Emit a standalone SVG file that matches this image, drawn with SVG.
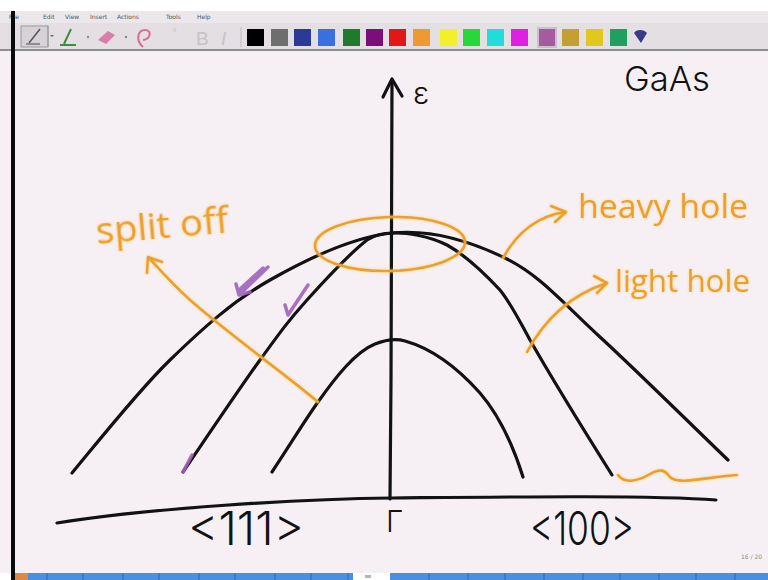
<svg xmlns="http://www.w3.org/2000/svg" width="768" height="580" viewBox="0 0 768 580">
<defs>
<style>
.ink{fill:none;stroke:#121212;stroke-width:3.2;stroke-linecap:round;stroke-linejoin:round}
.or{fill:none;stroke:#ec9e32;stroke-width:2.6;stroke-linecap:round;stroke-linejoin:round}
.ort{fill:#ec9e32;font-family:"Open Sans","DejaVu Sans",sans-serif;font-weight:400}
.pu{fill:none;stroke:#a062bb;stroke-width:3.5;stroke-linecap:round;stroke-linejoin:round;opacity:.9}
.hw{font-family:Inter,"Open Sans","DejaVu Sans",sans-serif;font-weight:300;fill:#121212}
.menu{font-family:"DejaVu Sans",sans-serif;font-size:6px;fill:#555}
.tick{stroke:#2f66b3;stroke-width:1}
</style>
<filter id="glow" x="-10%" y="-20%" width="120%" height="140%">
<feGaussianBlur in="SourceAlpha" stdDeviation="1.6" result="b"/>
<feFlood flood-color="#f8d264" flood-opacity="0.85"/>
<feComposite in2="b" operator="in" result="g"/>
<feMerge><feMergeNode in="g"/><feMergeNode in="SourceGraphic"/></feMerge>
</filter>
</defs>

<!-- window chrome -->
<g id="chrome">
<rect x="0" y="0" width="768" height="580" fill="#ffffff"/>
<rect x="0" y="11" width="768" height="12" fill="#ebe7eb"/>
<rect x="0" y="23" width="768" height="26" fill="#e3dfe3"/>
<rect x="0" y="49" width="768" height="2" fill="#8e8e8e"/>
<rect x="0" y="51" width="768" height="522" fill="#f6f0f5"/>
<text class="menu" x="9" y="19">File</text>
<text class="menu" x="43" y="19">Edit</text>
<text class="menu" x="65" y="19">View</text>
<text class="menu" x="90" y="19">Insert</text>
<text class="menu" x="117" y="19">Actions</text>
<text class="menu" x="166" y="19">Tools</text>
<text class="menu" x="197" y="19">Help</text>
<!-- tools -->
<rect x="21" y="26" width="27" height="21" fill="#d6d2d8" stroke="#9a9a9a" stroke-width="1"/>
<line x1="29" y1="43" x2="40" y2="29" stroke="#555" stroke-width="1.5"/>
<line x1="26" y1="44" x2="40" y2="44" stroke="#777" stroke-width="1.5"/>
<line x1="48" y1="26" x2="48" y2="47" stroke="#9a9a9a"/>
<path d="M50,35 L52,37 L54,35" fill="#666"/>
<path d="M71,29 L64,44 M60,45 L76,45" stroke="#3f8c3f" stroke-width="2" fill="none"/>
<circle cx="88" cy="37" r="1.2" fill="#888"/>
<path d="M98,40 L108,31 L115,35 L106,44 Z" fill="#d77fa8"/>
<circle cx="126" cy="37" r="1.2" fill="#888"/>
<path d="M143,47 C135,40 138,30 145,30 C152,30 151,39 143,40" fill="none" stroke="#d86e8e" stroke-width="2"/>
<text x="172" y="36" font-family="DejaVu Sans,sans-serif" font-size="10" fill="#c8c4c8">°</text>
<text x="196" y="45" font-family="Liberation Sans,sans-serif" font-size="19" fill="#c7c3c7">B</text>
<text x="221" y="45" font-family="Liberation Sans,sans-serif" font-size="19" font-style="italic" fill="#c7c3c7">I</text>
<line x1="241" y1="27" x2="241" y2="47" stroke="#c0bcc0"/>
<g id="swatches">
<rect x="247" y="29" width="17" height="17" fill="#000000"/>
<rect x="271" y="29" width="17" height="17" fill="#6e6e6e"/>
<rect x="294" y="29" width="17" height="17" fill="#2b3a92"/>
<rect x="318" y="29" width="17" height="17" fill="#3a6fe0"/>
<rect x="343" y="29" width="17" height="17" fill="#1f7a2b"/>
<rect x="366" y="29" width="17" height="17" fill="#7a0f7a"/>
<rect x="389" y="29" width="17" height="17" fill="#e01818"/>
<rect x="413" y="29" width="17" height="17" fill="#ee9a30"/>
<rect x="440" y="29" width="17" height="17" fill="#f2f02a"/>
<rect x="463" y="29" width="17" height="17" fill="#28d838"/>
<rect x="487" y="29" width="17" height="17" fill="#22dcdc"/>
<rect x="511" y="29" width="17" height="17" fill="#e020e0"/>
<rect x="537" y="27" width="20" height="21" fill="#c8c0cc"/>
<rect x="539" y="29" width="16" height="17" fill="#a65aa0"/>
<rect x="562" y="29" width="17" height="17" fill="#c3a032"/>
<rect x="586" y="29" width="17" height="17" fill="#e2c81e"/>
<rect x="610" y="29" width="17" height="17" fill="#1fa060"/>
<path d="M634,33 C636,29 644,29 647,33 L641,43 Z" fill="#3a3a8a"/>
</g>
<rect x="11" y="11" width="4" height="569" fill="#0a0a0a"/>
<!-- bottom bar -->
<rect x="15" y="573" width="338" height="7" fill="#4a8fe0"/>
<rect x="15" y="573" width="13" height="7" fill="#de8848"/>
<rect x="390" y="573" width="378" height="7" fill="#4a8fe0"/>
<rect x="365" y="575" width="6" height="3" fill="#b5b5b5"/>
<g class="tick">
<line x1="47" y1="573" x2="47" y2="580"/><line x1="83" y1="573" x2="83" y2="580"/><line x1="123" y1="573" x2="123" y2="580"/><line x1="159" y1="573" x2="159" y2="580"/><line x1="199" y1="573" x2="199" y2="580"/><line x1="235" y1="573" x2="235" y2="580"/><line x1="275" y1="573" x2="275" y2="580"/><line x1="311" y1="573" x2="311" y2="580"/><line x1="348" y1="573" x2="348" y2="580"/>
<line x1="429" y1="573" x2="429" y2="580"/><line x1="468" y1="573" x2="468" y2="580"/><line x1="505" y1="573" x2="505" y2="580"/><line x1="544" y1="573" x2="544" y2="580"/><line x1="583" y1="573" x2="583" y2="580"/><line x1="620" y1="573" x2="620" y2="580"/><line x1="659" y1="573" x2="659" y2="580"/><line x1="696" y1="573" x2="696" y2="580"/><line x1="735" y1="573" x2="735" y2="580"/>
</g>
<text x="741" y="559" font-family="DejaVu Sans,sans-serif" font-size="6" fill="#8a8a8a">16 / 20</text>
</g>

<!-- axes -->
<g id="axes">
<path class="ink" d="M57,523 C150,508 300,499 392,498 C500,497 650,495 716,500"/>
<path class="ink" d="M390,499 L391,380 L392,80"/>
<path class="ink" d="M383,97 L392,79 L402,96"/>
<text class="hw" x="413" y="104" font-size="31" font-weight="400">ε</text>
<text class="hw" x="386" y="532" font-size="30">Γ</text>
<text class="hw" x="188" y="545" font-size="46" textLength="116" lengthAdjust="spacingAndGlyphs">&lt;111&gt;</text>
<text class="hw" x="530" y="545" font-size="46" textLength="104" lengthAdjust="spacingAndGlyphs">&lt;100&gt;</text>
<text class="hw" x="624" y="91" font-size="34" font-weight="400" textLength="86" lengthAdjust="spacingAndGlyphs">GaAs</text>
</g>

<!-- bands -->
<g id="heavy-hole">
<path class="ink" d="M72,473 C88,454 137,392 170,360 C203,328 233,301 270,280 C307,259 353,237 392,233 C431,229 470,241 505,258 C540,275 563,303 600,337 C637,371 707,440 728,460"/>
</g>
<g id="light-hole">
<path class="ink" d="M183,472 C196,453 239,389 260,360 C281,331 289,320 307,300 C325,280 353,251 367,240 C375,235 383,233 392,233 C405,232 429,236 447,245 C465,255 486,275 500,290 C512,305 520,322 530,340 C550,375 590,440 612,475"/>
</g>
<g id="split-off">
<path class="ink" d="M272,472 C290,445 305,420 318,402 C335,378 355,352 375,344 C385,340 395,338 405,341 C430,348 455,365 480,393 C498,414 513,445 523,477"/>
</g>

<!-- purple marks -->
<g id="marks">
<path class="pu" d="M268,267 L241,293 M263,268 L238,291 M236,284 L239,295 L250,292"/>
<path class="pu" d="M285,305 L288,315 L308,285"/>
<path class="pu" d="M183,472 L192,455" stroke-width="5"/>
</g>

<!-- orange annotations -->
<g id="annotations" filter="url(#glow)">
<ellipse class="or" cx="390" cy="244" rx="75" ry="27" transform="rotate(-1.5 390 244)"/>
<path class="or" d="M318,402 C290,378 230,335 190,300 C170,282 160,270 149,258"/>
<path class="or" d="M162,262 L148,257 L147,273"/>
<path class="or" d="M503,258 Q525,218 565,212"/>
<path class="or" d="M551,206 L566,212 L555,222"/>
<path class="or" d="M527,352 Q555,300 607,283"/>
<path class="or" d="M594,276 L607,283 L597,293"/>
<path class="or" d="M618,475 C625,485 640,480 650,474 C660,468 665,470 670,477 C678,485 700,478 737,475"/>
<text class="ort" x="97" y="244" font-size="36" textLength="133" lengthAdjust="spacingAndGlyphs" transform="rotate(-5 97 244)">split off</text>
<text class="ort" x="578" y="218" font-size="32" textLength="170" lengthAdjust="spacingAndGlyphs">heavy hole</text>
<text class="ort" x="615" y="292" font-size="31" textLength="135" lengthAdjust="spacingAndGlyphs">light hole</text>
</g>
</svg>
